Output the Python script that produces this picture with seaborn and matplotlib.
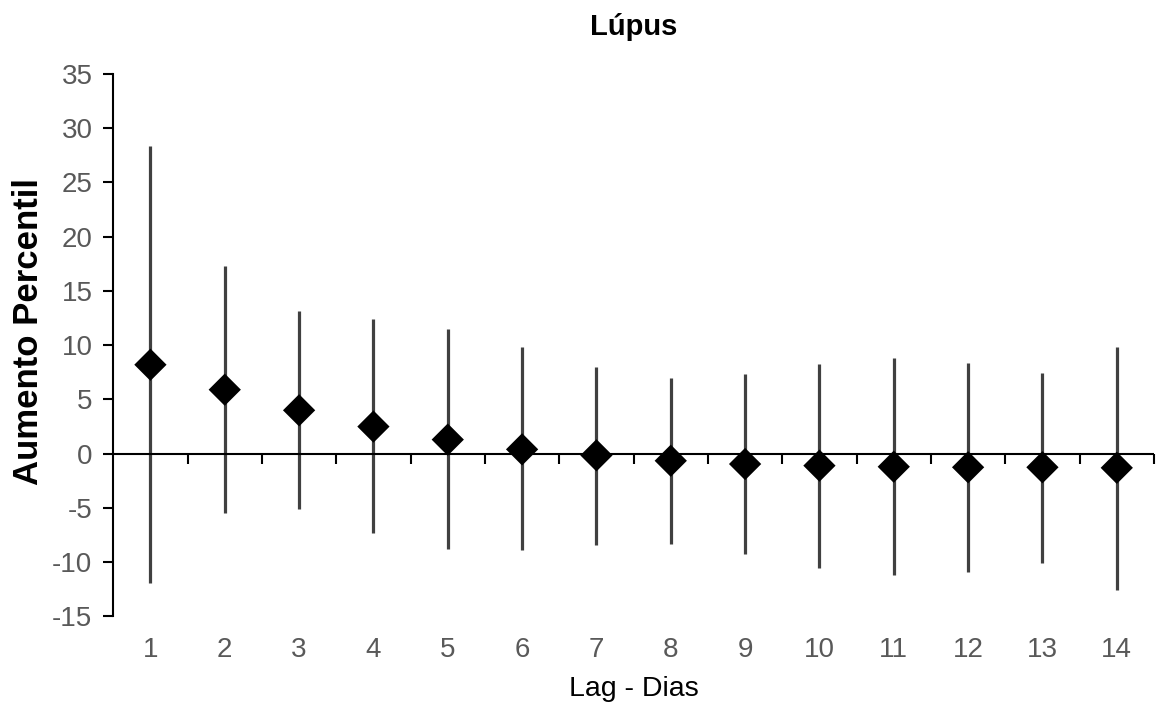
import matplotlib
matplotlib.use("Agg")
import matplotlib.pyplot as plt
import seaborn as sns
import pandas as pd

# Percent increase by lag (days) with 95% confidence limits
lags = [1, 2, 3, 4, 5, 6, 7, 8, 9, 10, 11, 12, 13, 14]
estimate = [8.2, 5.9, 4.0, 2.5, 1.3, 0.4, -0.15, -0.65, -0.95, -1.1, -1.2, -1.25, -1.25, -1.3]
lower = [-11.9, -5.5, -5.1, -7.3, -8.8, -8.9, -8.4, -8.3, -9.2, -10.5, -11.2, -10.9, -10.1, -12.6]
upper = [28.4, 17.3, 13.15, 12.4, 11.5, 9.8, 8.0, 7.0, 7.3, 8.25, 8.85, 8.4, 7.45, 9.8]

title = "Lúpus"
xlabel = "Lag - Dias"
ylabel = "Aumento Percentil"

df = pd.DataFrame({"lag": lags, "est": estimate, "lo": lower, "hi": upper})

sns.set_style("white")
plt.rcParams["font.family"] = ["Liberation Sans", "DejaVu Sans"]
plt.rcParams["axes.unicode_minus"] = False

fig = plt.figure(figsize=(11.58, 7.06), dpi=100)
ax = fig.add_axes([0.0978, 0.1268, 0.8987, 0.7685])

# confidence intervals
ax.vlines(df["lag"], df["lo"], df["hi"], color="#404040", linewidth=2.3, zorder=1)

# zero reference line acting as the category axis
ax.axhline(0, color="black", linewidth=1.5, zorder=2)

# point estimates
sns.scatterplot(data=df, x="lag", y="est", marker="D", s=270, color="black",
                edgecolor="none", linewidth=0, ax=ax, zorder=3, legend=False)

ax.set_xlim(0.5, 14.5)
ax.set_ylim(-15, 35)
ax.set_yticks(range(-15, 36, 5))
ax.set_xticks(lags)
ax.set_xticklabels([str(v) for v in lags])

for side in ("top", "right", "bottom"):
    ax.spines[side].set_visible(False)
ax.spines["left"].set_color("black")
ax.spines["left"].set_linewidth(1.5)

ax.tick_params(axis="y", direction="out", length=7, width=1.5, color="black",
               labelsize=20, labelcolor="#595959", pad=8, left=True)
ax.tick_params(axis="x", length=0, labelsize=20, labelcolor="#595959", pad=15)

# tick marks between categories on the zero line
sec = ax.secondary_xaxis(0.3)
sec.set_xticks([v + 0.5 for v in lags])
sec.set_xticklabels([])
sec.spines["bottom"].set_visible(False)
sec.tick_params(axis="x", direction="out", length=7, width=1.5, color="black")

ax.set_xlabel(xlabel, fontsize=20.5, color="black", labelpad=9)
ax.set_ylabel(ylabel, fontsize=25, fontweight="bold", color="black")
ax.yaxis.set_label_coords(-0.066, 0.525)
ax.set_title(title, fontsize=21, fontweight="bold", color="black", pad=28)

fig.savefig("out.png", dpi=100, facecolor="white")
